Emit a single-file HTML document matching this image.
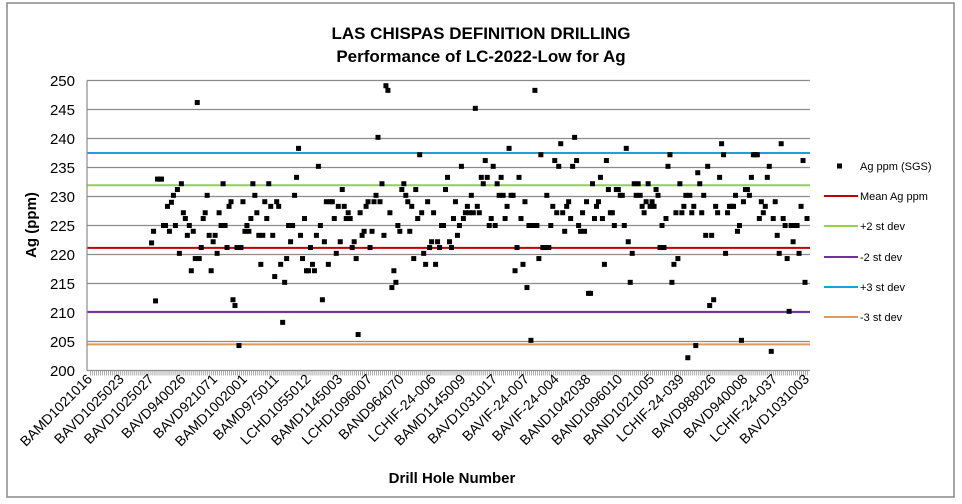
<!DOCTYPE html>
<html><head><meta charset="utf-8"><style>
body{margin:0;background:#fff;}
svg{display:block;font-family:"Liberation Sans",Calibri,sans-serif;}
</style></head><body>
<svg id="chart" width="962" height="504" viewBox="0 0 962 504">
<rect x="7" y="3" width="947" height="494" fill="#fff" stroke="#888" stroke-width="1.5"/>
<text x="481" y="39" text-anchor="middle" font-size="17" font-weight="bold">LAS CHISPAS DEFINITION DRILLING</text>
<text x="481" y="62" text-anchor="middle" font-size="17" font-weight="bold">Performance of LC-2022-Low for Ag</text>
<text transform="translate(36,225) rotate(-90)" text-anchor="middle" font-size="15" font-weight="bold">Ag (ppm)</text>
<text x="452" y="483" text-anchor="middle" font-size="15" font-weight="bold">Drill Hole Number</text>
<g id="grid"></g><g id="refs"></g><g id="pts"></g><g id="axes"></g><g id="legend"></g>
</svg>
<script>
const yTicks=[200,205,210,215,220,225,230,235,240,245,250];
const xLabels=["BAMD1021016","BAVD1025023","BAVD1025027","BAVD940026","BAVD921071","BAMD1002001","BAMD975011","LCHD1055012","BAMD1145003","LCHD1096007","BAND964070","LCHIF-24-006","BAMD1145009","BAVD1031017","BAVIF-24-007","BAVIF-24-004","BAND1042038","BAND1096010","BAND1021005","LCHIF-24-039","BAVD988026","BAVD940008","LCHIF-24-037","BAVD1031003"];
const refNames=["Mean Ag ppm","+2 st dev","-2 st dev","+3 st dev","-3 st dev"];
const refValues=[221.15,231.95,210.1,237.5,204.5];
const refColors=["#c00000","#92d050","#7030a0","#1ba1d8","#e09a5a"];
const leadingEmpty=31;
const agValues=[
222,224,212,233,233,233,225,225,228.3,224,229,230.2,225,231.2,220.2,232.2,227.2,226.2,223.3,225,217.2,224,219.3,246.2,219.3,221.2,226.2,227.2,230.2,223.3,217.2,222.2,223.3,220.2,227.2,225,232.2,225,221.2,228.3,229.1,212.2,211.2,221.2,204.3,221.2,229.1,224,225,224,226.2,232.2,230.2,227.2,223.3,218.3,223.3,229.1,226.2,232.2,228.3,223.3,216.2,229.1,228.3,218.3,208.3,215.2,219.3,225,222.2,225,230.2,233.3,238.3,223.3,219.3,226.2,217.2,217.2,221.2,218.3,217.2,223.3,235.2,225,212.2,222.2,229.1,218.3,229.1,229.1,226.2,220.2,228.3,222.2,231.2,228.3,226.2,227.2,226.2,221.2,222.2,219.3,206.2,227.2,223.3,224,228.3,229.1,
221.2,224,229.1,230.2,240.2,229.1,232.2,223.3,249.1,248.3,227.2,214.3,217.2,215.2,225,224,231.2,232.2,230.2,229.1,224,228.3,219.3,231.2,226.2,237.2,227.2,220.2,218.3,229.1,221.2,222.2,227.2,218.3,222.2,221.2,225,225,231.2,233.3,222.2,221.2,226.2,229.1,223.3,225,235.2,226.2,227.2,228.3,227.2,230.2,227.2,245.2,228.3,227.2,233.3,232.2,236.2,233.3,225,226.2,235.2,225,232.2,230.2,233.3,230.2,226.2,228.3,238.3,230.2,230.2,217.2,221.2,233.3,226.2,218.3,229.1,214.3,225,205.2,225,248.3,225,219.3,237.2,221.2,221.2,230.2,221.2,225,228.3,236.2,227.2,235.2,239.1,227.2,224,228.3,229.1,226.2,235.2,240.2,236.2,225,224,227.2,224,229.1,213.3,
213.3,232.2,226.2,228.3,229.1,233.3,226.2,218.3,236.2,231.2,227.2,227.2,225,231.2,231.2,230.2,230.2,225,238.3,222.2,215.2,220.2,232.2,230.2,232.2,230.2,228.3,227.2,229.1,232.2,228.3,229.1,228.3,231.2,230.2,221.2,225,221.2,226.2,235.2,237.2,215.2,218.3,227.2,219.3,232.2,227.2,228.3,230.2,202.2,230.2,227.2,228.3,204.3,234.1,232.2,227.2,230.2,223.3,235.2,211.2,223.3,212.2,228.3,227.2,233.3,239.1,237.2,220.2,227.2,228.3,228.3,228.3,230.2,224,225,205.2,229.1,231.2,231.2,230.2,233.3,237.2,237.2,237.2,226.2,229.1,227.2,228.3,233.3,235.2,203.3,226.2,229.1,223.3,220.2,239.1,226.2,225,219.3,210.2,225,222.2,225,225,220.2,228.3,236.2,215.2,226.2
];
const NS="http://www.w3.org/2000/svg";
const X0=87,X1=810,Y0=370.5,Y1=80.5,FIRST=90,LAST=807;
const N=leadingEmpty+agValues.length;
function xPos(i){return FIRST+i*(LAST-FIRST)/(N-1);}
function yPos(v){return Y0-(v-200)/(250-200)*(Y0-Y1);}
function mk(tag,attrs,parent){const e=document.createElementNS(NS,tag);for(const k in attrs)e.setAttribute(k,attrs[k]);parent.appendChild(e);return e;}
const grid=document.getElementById('grid'),refs=document.getElementById('refs'),pts=document.getElementById('pts'),axes=document.getElementById('axes'),legend=document.getElementById('legend');
yTicks.forEach(t=>{
  if(t>200){const l=mk('line',{x1:X0,x2:X1,y1:yPos(t),y2:yPos(t),stroke:'#8c8c8c','stroke-width':1.2},grid);
  
  }
  const tx=mk('text',{x:75,y:yPos(t)+5.5,'text-anchor':'end','font-size':15},axes);tx.textContent=t;
  
  
});
const yax=mk('line',{x1:X0,x2:X0,y1:Y1,y2:Y0,stroke:'#8c8c8c','stroke-width':1.2},axes);


const xax=mk('line',{x1:X0,x2:X1,y1:Y0,y2:Y0,stroke:'#8c8c8c','stroke-width':1.2},axes);


let tp='';for(let i=0;i<N;i++){const x=xPos(i)+0.5;tp+='M'+x.toFixed(1)+' '+Y0+'v5';}
const ticks=mk('path',{d:tp,stroke:'#999','stroke-width':0.8},axes);


xLabels.forEach((lab,j)=>{
  const i=Math.round(j*(N-1)/(xLabels.length-1));const x=xPos(i)+3;
  const t=mk('text',{transform:'translate('+x+',380) rotate(-45)','text-anchor':'end','font-size':14},axes);t.textContent=lab;
  
  
});
refValues.forEach((v,k)=>{
  const l=mk('line',{x1:X0,x2:X1,y1:yPos(v),y2:yPos(v),stroke:refColors[k],'stroke-width':2},refs);
  
  
});
agValues.forEach((v,j)=>{
  const x=xPos(leadingEmpty+j);
  const r=mk('rect',{x:x-2.5,y:yPos(v)-2.5,width:5,height:5,fill:'#000'},pts);
  
  
});
const ly=[166,196,226,257,287,317];
const m=mk('rect',{x:837,y:ly[0]-2.5,width:5,height:5,fill:'#000'},legend);


const t0=mk('text',{x:860,y:ly[0]+4,'font-size':11},legend);t0.textContent='Ag ppm (SGS)';


refNames.forEach((n,k)=>{
  const y=ly[k+1];
  const l=mk('line',{x1:824,x2:858,y1:y,y2:y,stroke:refColors[k],'stroke-width':2},legend);
  
  
  const t=mk('text',{x:860,y:y+4,'font-size':11},legend);t.textContent=n;
  
  
});
</script>
</body></html>
